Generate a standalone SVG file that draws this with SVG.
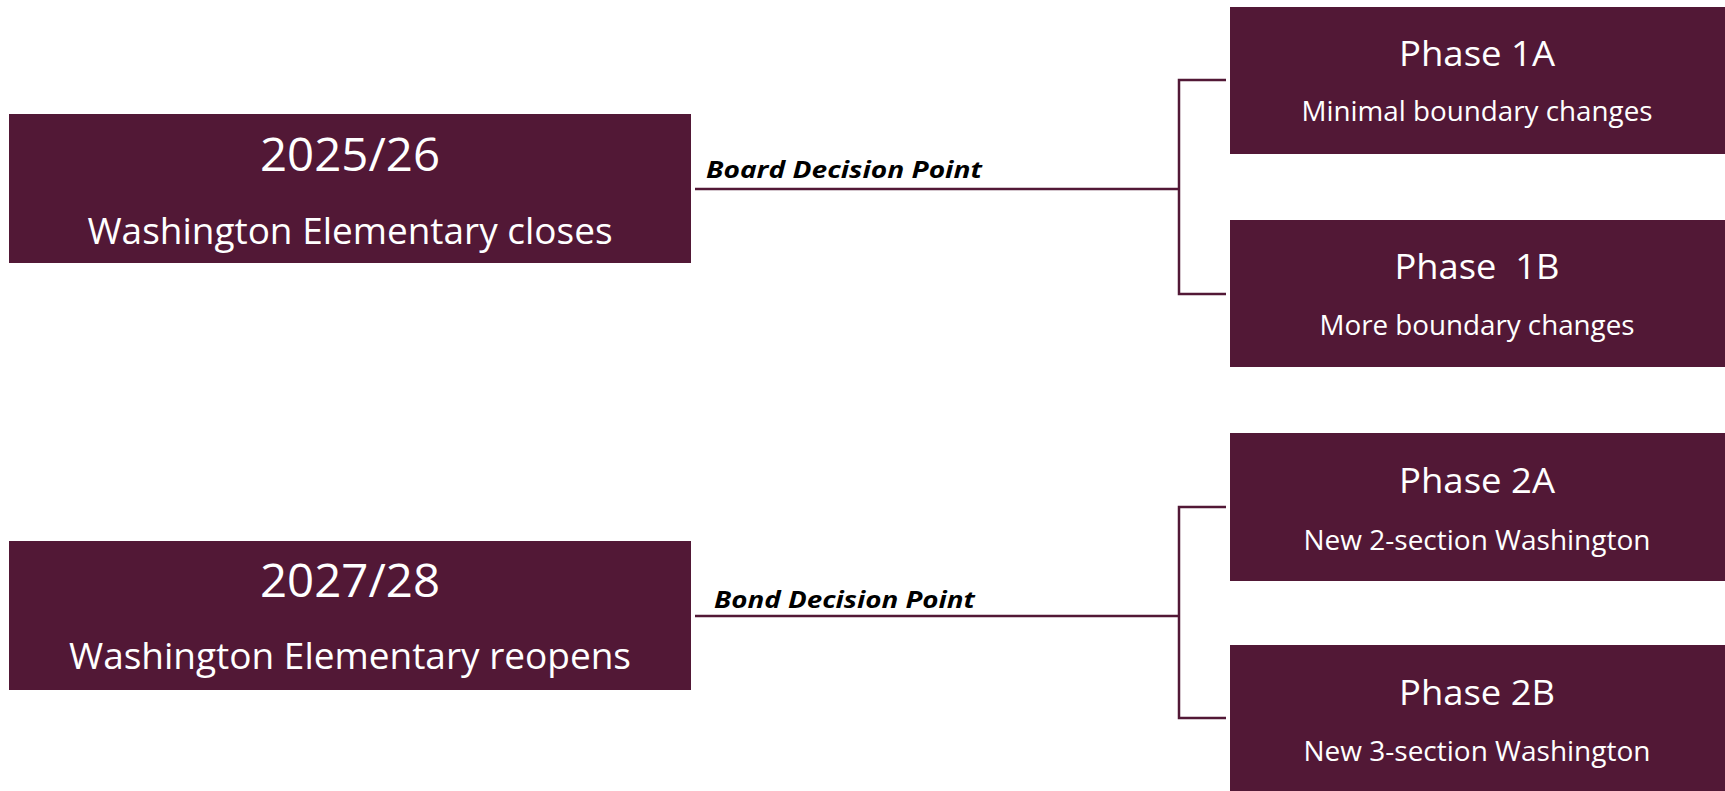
<svg xmlns="http://www.w3.org/2000/svg" width="1725" height="791" viewBox="0 0 1725 791">
<style>
.box{fill:#521836;}
.t{font-family:"Open Sans","Noto Sans",sans-serif;fill:#ffffff;text-anchor:middle;}
.yr{font-size:46px;}
.sub{font-size:37px;}
.ph{font-size:34px;}
.ps{font-size:27px;}
.lbl{font-family:"Open Sans","Noto Sans",sans-serif;font-size:24px;font-weight:bold;font-style:italic;fill:#000000;}
.c{fill:none;stroke:#521836;stroke-width:2.5;}
</style>
<rect width="1725" height="791" fill="#ffffff"/>
<g id="node-2025">
<rect class="box" x="9" y="114" width="682" height="149"/>
<text class="t yr" x="350" y="171" textLength="180" lengthAdjust="spacingAndGlyphs">2025/26</text>
<text class="t sub" x="350" y="244" textLength="525" lengthAdjust="spacingAndGlyphs">Washington Elementary closes</text>
</g>
<g id="node-2027">
<rect class="box" x="9" y="541" width="682" height="149"/>
<text class="t yr" x="350" y="597" textLength="180" lengthAdjust="spacingAndGlyphs">2027/28</text>
<text class="t sub" x="350" y="669" textLength="562" lengthAdjust="spacingAndGlyphs">Washington Elementary reopens</text>
</g>
<g id="node-1a">
<rect class="box" x="1230" y="7" width="495" height="147"/>
<text class="t ph" x="1477" y="66" textLength="156" lengthAdjust="spacingAndGlyphs">Phase 1A</text>
<text class="t ps" x="1477" y="121" textLength="351" lengthAdjust="spacingAndGlyphs">Minimal boundary changes</text>
</g>
<g id="node-1b">
<rect class="box" x="1230" y="220" width="495" height="147"/>
<text class="t ph" x="1477" y="279" textLength="165" lengthAdjust="spacingAndGlyphs" xml:space="preserve">Phase  1B</text>
<text class="t ps" x="1477" y="335" textLength="315" lengthAdjust="spacingAndGlyphs">More boundary changes</text>
</g>
<g id="node-2a">
<rect class="box" x="1230" y="433" width="495" height="148"/>
<text class="t ph" x="1477" y="493" textLength="156" lengthAdjust="spacingAndGlyphs">Phase 2A</text>
<text class="t ps" x="1477" y="550" textLength="347" lengthAdjust="spacingAndGlyphs">New 2-section Washington</text>
</g>
<g id="node-2b">
<rect class="box" x="1230" y="645" width="495" height="146"/>
<text class="t ph" x="1477" y="705" textLength="156" lengthAdjust="spacingAndGlyphs">Phase 2B</text>
<text class="t ps" x="1477" y="761" textLength="347" lengthAdjust="spacingAndGlyphs">New 3-section Washington</text>
</g>
<g id="connectors">
<path class="c" d="M695 189 H1179 M1226 80 H1179 V294 H1226"/>
<path class="c" d="M695 616 H1179 M1226 507 H1179 V718 H1226"/>
<text class="lbl" x="706" y="178" textLength="276" lengthAdjust="spacingAndGlyphs">Board Decision Point</text>
<text class="lbl" x="714" y="608" textLength="261" lengthAdjust="spacingAndGlyphs">Bond Decision Point</text>
</g>
</svg>
